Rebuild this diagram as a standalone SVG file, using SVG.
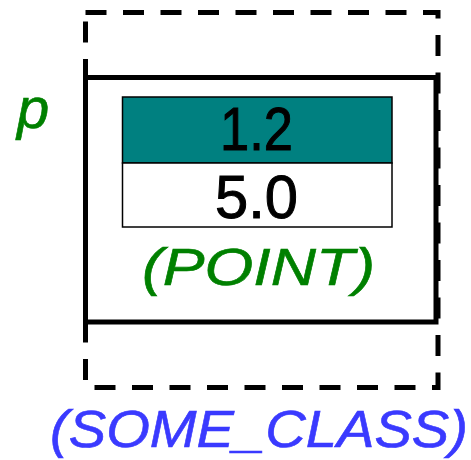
<svg xmlns="http://www.w3.org/2000/svg" width="471" height="460" viewBox="0 0 471 460">
<style>
.txt{font-family:"Liberation Sans",Arial,sans-serif}
.num{font-size:61px;fill:#000;stroke:#000;stroke-width:1}
.lbl{font-style:italic;font-size:52px}
</style>
<rect width="471" height="460" fill="#fff"/>
<g id="connectors"></g>
<g id="outer">
<rect x="85.5" y="12.5" width="352.5" height="375" fill="none" stroke="#000" stroke-width="5" stroke-dasharray="21 16.5"/>
</g>
<g id="object">
<rect x="85.5" y="77.5" width="350.5" height="244.5" fill="#fff" stroke="#000" stroke-width="5"/>
</g>
<g id="field1">
<rect x="122.5" y="97" width="269.5" height="66" fill="#008080" stroke="#000" stroke-width="1.5"/>
<text class="txt num" x="220" y="150" textLength="73" lengthAdjust="spacingAndGlyphs">1.2</text>
</g>
<g id="field2">
<rect x="122.5" y="163" width="269.5" height="64" fill="#fff" stroke="#000" stroke-width="1.5"/>
<text class="txt num" x="215" y="218" font-size="62" textLength="83" lengthAdjust="spacingAndGlyphs">5.0</text>
</g>
<text class="txt lbl" x="142" y="285" fill="#008000" stroke="#008000" stroke-width="0.6" textLength="233" lengthAdjust="spacingAndGlyphs">(POINT)</text>
<text class="txt" x="17" y="128" font-style="italic" font-size="58" fill="#008000" stroke="#008000" stroke-width="0.6">p</text>
<text class="txt lbl" x="50" y="447" fill="#3a3aff" stroke="#3a3aff" stroke-width="0.6" textLength="418" lengthAdjust="spacingAndGlyphs">(SOME_CLASS)</text>
</svg>
